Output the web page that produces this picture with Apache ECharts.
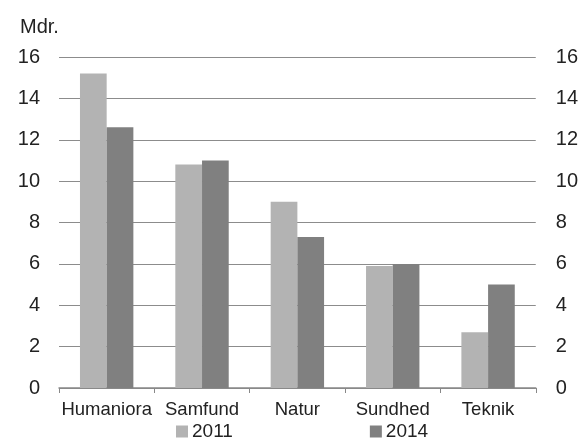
<!DOCTYPE html>
<html>
<head>
<meta charset="utf-8">
<script src="https://cdn.jsdelivr.net/npm/echarts@6/dist/echarts.min.js"></script>
<style>
  html, body { margin: 0; padding: 0; background: #fff; }
  #chart { width: 581px; height: 447px; }
</style>
</head>
<body>
<div id="chart"></div>
<script>
  // kategorier og værdier (mia. kr.)
  var categories = ['Humaniora', 'Samfund', 'Natur', 'Sundhed', 'Teknik'];
  var values2011 = [15.2, 10.8, 9.0, 5.9, 2.7];
  var values2014 = [12.6, 11.0, 7.3, 6.0, 5.0];
  var seriesNames = ['2011', '2014'];

  var font = 'Liberation Sans, Arial, sans-serif';

  var option = {
    animation: false,
    textStyle: { fontFamily: font },
    legend: {
      bottom: 1,
      left: 171,
      data: seriesNames,
      itemWidth: 12,
      itemHeight: 12,
      itemGap: 137,
      icon: 'rect',
      textStyle: { fontSize: 19, color: '#222', fontFamily: font, padding: [0, 0, 0, -1] }
    },
    grid: {
      left: 59,
      right: 44,
      top: 57,
      bottom: 59
    },
    xAxis: {
      type: 'category',
      data: categories,
      axisLine: { lineStyle: { color: '#888', width: 1.5 } },
      axisTick: { show: true, length: 5, lineStyle: { color: '#888' } },
      axisLabel: { fontSize: 18.5, color: '#222', margin: 12, interval: 0 }
    },
    yAxis: [
      {
        type: 'value',
        min: 0,
        max: 16,
        interval: 2,
        name: 'Mdr.',
        nameLocation: 'end',
        nameGap: 20,
        nameTextStyle: { fontSize: 20, color: '#222', align: 'left', padding: [0, 0, 0, -39] },
        axisLine: { show: false },
        axisTick: { show: false },
        axisLabel: { fontSize: 20, color: '#222', margin: 19 },
        splitLine: { lineStyle: { color: '#8c8c8c', width: 1.2 } }
      },
      {
        type: 'value',
        min: 0,
        max: 16,
        interval: 2,
        axisLine: { show: false },
        axisTick: { show: false },
        axisLabel: { fontSize: 20, color: '#222', margin: 20 },
        splitLine: { show: false }
      }
    ],
    series: [
      {
        name: seriesNames[0],
        type: 'bar',
        data: values2011,
        barWidth: '28%',
        barGap: '0%',
        itemStyle: { color: '#b3b3b3' }
      },
      {
        name: seriesNames[1],
        type: 'bar',
        data: values2014,
        barWidth: '28%',
        itemStyle: { color: '#808080' }
      }
    ]
  };

  echarts.init(document.getElementById('chart')).setOption(option);
</script>
</body>
</html>
